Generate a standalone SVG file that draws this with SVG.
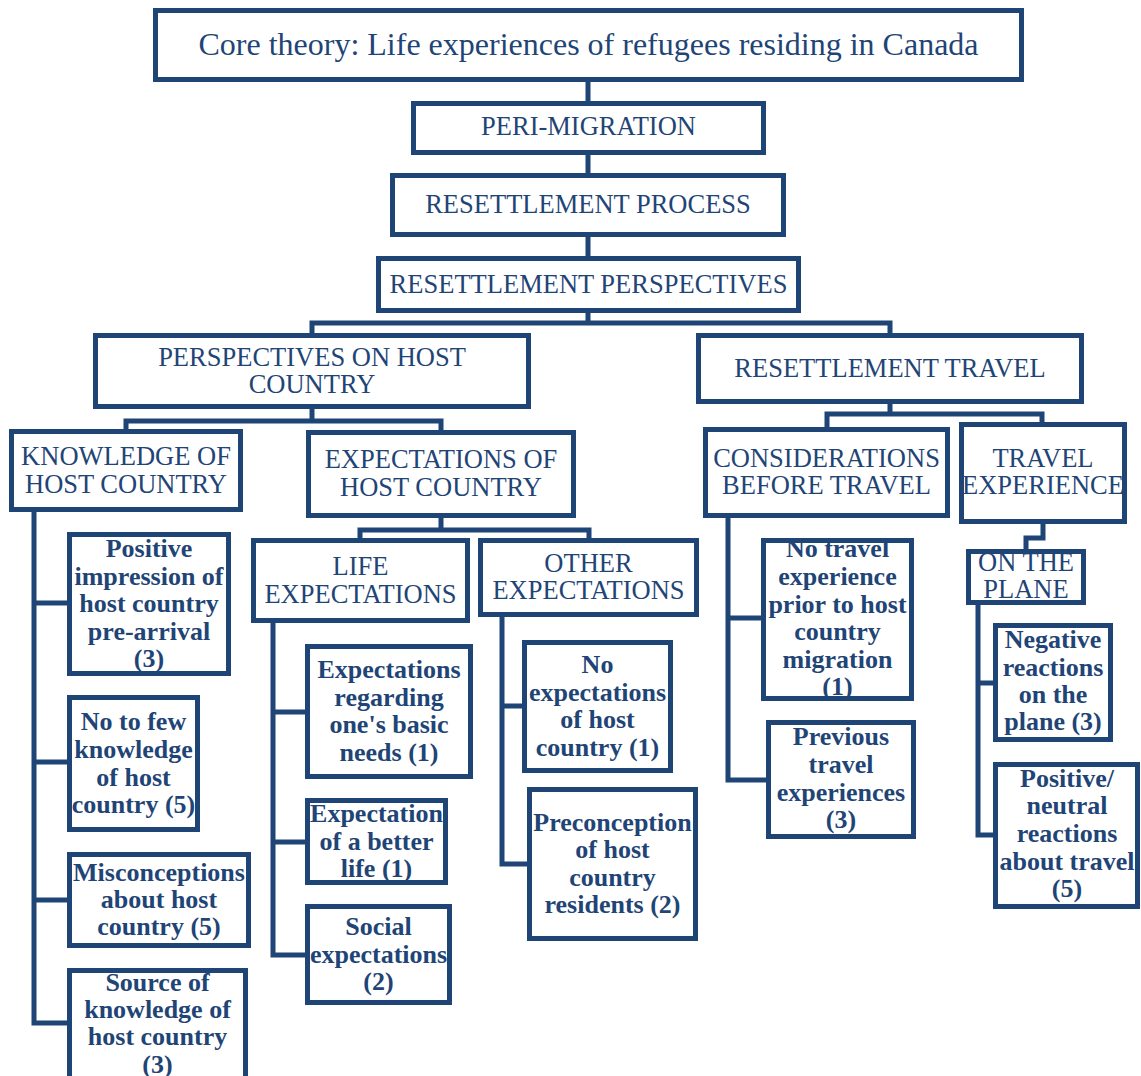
<svg xmlns="http://www.w3.org/2000/svg" width="1141" height="1076" viewBox="0 0 1141 1076">
  <style>
    .box { fill: #ffffff; stroke: #1F4576; stroke-width: 5; }
    .wire { fill: none; stroke: #1F4576; stroke-width: 5; stroke-linejoin: miter; stroke-linecap: square; }
    text { font-family: "Liberation Serif", "Times New Roman", serif; fill: #1F4576; text-anchor: middle; }
    .title { font-size: 32px; }
    .cat { font-size: 26.5px; }
    .leaf { font-size: 26px; font-weight: bold; }
  </style>
  <rect width="1141" height="1076" fill="#ffffff"/>

  <!-- tree connectors -->
  <g id="connectors">
    <path class="wire" d="M588 82 V101 M588 155 V173 M588 237 V256"/>
    <path class="wire" d="M588 313 V323 M312 333 V323 H890 V333"/>
    <path class="wire" d="M312 409 V421 M126 429 V421 H441 V430"/>
    <path class="wire" d="M890 404 V414 M827 427 V414 H1042 V422"/>
    <path class="wire" d="M34 512 V1023 H67 M34 603 H67 M34 762 H67 M34 900 H67"/>
    <path class="wire" d="M441 518 V530 M360 538 V530 H589 V538"/>
    <path class="wire" d="M273 623 V955 H305 M273 712 H305 M273 842 H305"/>
    <path class="wire" d="M502 617 V864 H527 M502 706 H522"/>
    <path class="wire" d="M728 518 V780 H766 M728 618 H761"/>
    <path class="wire" d="M1043 524 V538 H1026 V549"/>
    <path class="wire" d="M978 605 V835 H993 M978 683 H993"/>
  </g>

  <!-- level 0 -->
  <g id="core">
    <rect class="box" x="155.5" y="10.5" width="866" height="69"/>
    <text class="title" x="588.5" y="55">Core theory: Life experiences of refugees residing in Canada</text>
  </g>
  <g id="peri-migration">
    <rect class="box" x="413.5" y="103.5" width="350" height="49"/>
    <text class="cat" x="588.5" y="135">PERI-MIGRATION</text>
  </g>
  <g id="resettlement-process">
    <rect class="box" x="392.5" y="175.5" width="391" height="59"/>
    <text class="cat" x="588" y="213">RESETTLEMENT PROCESS</text>
  </g>
  <g id="resettlement-perspectives">
    <rect class="box" x="378.5" y="258.5" width="420" height="52"/>
    <text class="cat" x="588.5" y="293">RESETTLEMENT PERSPECTIVES</text>
  </g>

  <!-- level 1 -->
  <g id="perspectives-host">
    <rect class="box" x="95.5" y="335.5" width="433" height="71"/>
    <text class="cat" x="312" y="366">PERSPECTIVES ON HOST</text>
    <text class="cat" x="312" y="393">COUNTRY</text>
  </g>
  <g id="resettlement-travel">
    <rect class="box" x="698.5" y="335.5" width="383" height="66"/>
    <text class="cat" x="890" y="377">RESETTLEMENT TRAVEL</text>
  </g>

  <!-- level 2 -->
  <g id="knowledge">
    <rect class="box" x="11.5" y="431.5" width="229" height="78"/>
    <text class="cat" x="126" y="465">KNOWLEDGE OF</text>
    <text class="cat" x="126" y="493">HOST COUNTRY</text>
  </g>
  <g id="expectations">
    <rect class="box" x="308.5" y="432.5" width="265" height="83"/>
    <text class="cat" x="441" y="468">EXPECTATIONS OF</text>
    <text class="cat" x="441" y="496">HOST COUNTRY</text>
  </g>
  <g id="considerations">
    <rect class="box" x="705.5" y="429.5" width="242" height="86"/>
    <text class="cat" x="826.5" y="467">CONSIDERATIONS</text>
    <text class="cat" x="826.5" y="494">BEFORE TRAVEL</text>
  </g>
  <g id="travel-experience">
    <rect class="box" x="961.5" y="424.5" width="163" height="97"/>
    <text class="cat" x="1043" y="467">TRAVEL</text>
    <text class="cat" x="1043" y="494">EXPERIENCE</text>
  </g>

  <!-- level 3 -->
  <g id="life-expectations">
    <rect class="box" x="253.5" y="540.5" width="214" height="80"/>
    <text class="cat" x="360.5" y="575">LIFE</text>
    <text class="cat" x="360.5" y="603">EXPECTATIONS</text>
  </g>
  <g id="other-expectations">
    <rect class="box" x="480.5" y="540.5" width="216" height="74"/>
    <text class="cat" x="588.5" y="572">OTHER</text>
    <text class="cat" x="588.5" y="599">EXPECTATIONS</text>
  </g>
  <g id="on-the-plane">
    <rect class="box" x="968.5" y="551.5" width="115" height="51"/>
    <text class="cat" x="1026" y="571">ON THE</text>
    <text class="cat" x="1026" y="598">PLANE</text>
  </g>

  <!-- leaves: knowledge of host country -->
  <g id="positive-impression">
    <rect class="box" x="69.5" y="534.5" width="159" height="139"/>
    <text class="leaf" x="149" y="557">Positive</text>
    <text class="leaf" x="149" y="585">impression of</text>
    <text class="leaf" x="149" y="612">host country</text>
    <text class="leaf" x="149" y="640">pre-arrival</text>
    <text class="leaf" x="149" y="667">(3)</text>
  </g>
  <g id="no-to-few-knowledge">
    <rect class="box" x="69.5" y="697.5" width="128" height="132"/>
    <text class="leaf" x="133.5" y="730">No to few</text>
    <text class="leaf" x="133.5" y="758">knowledge</text>
    <text class="leaf" x="133.5" y="786">of host</text>
    <text class="leaf" x="133.5" y="813">country (5)</text>
  </g>
  <g id="misconceptions">
    <rect class="box" x="69.5" y="854.5" width="179" height="91"/>
    <text class="leaf" x="159" y="881">Misconceptions</text>
    <text class="leaf" x="159" y="908">about host</text>
    <text class="leaf" x="159" y="935">country (5)</text>
  </g>
  <g id="source-of-knowledge">
    <rect class="box" x="69.5" y="970.5" width="176" height="115"/>
    <text class="leaf" x="157.5" y="991">Source of</text>
    <text class="leaf" x="157.5" y="1018">knowledge of</text>
    <text class="leaf" x="157.5" y="1045">host country</text>
    <text class="leaf" x="157.5" y="1073">(3)</text>
  </g>

  <!-- leaves: life expectations -->
  <g id="basic-needs">
    <rect class="box" x="307.5" y="646.5" width="163" height="130"/>
    <text class="leaf" x="389" y="678">Expectations</text>
    <text class="leaf" x="389" y="706">regarding</text>
    <text class="leaf" x="389" y="733">one's basic</text>
    <text class="leaf" x="389" y="761">needs (1)</text>
  </g>
  <g id="better-life">
    <rect class="box" x="307.5" y="800.5" width="138" height="82"/>
    <text class="leaf" x="376.5" y="822">Expectation</text>
    <text class="leaf" x="376.5" y="850">of a better</text>
    <text class="leaf" x="376.5" y="877">life (1)</text>
  </g>
  <g id="social-expectations">
    <rect class="box" x="307.5" y="906.5" width="142" height="96"/>
    <text class="leaf" x="378.5" y="935">Social</text>
    <text class="leaf" x="378.5" y="963">expectations</text>
    <text class="leaf" x="378.5" y="990">(2)</text>
  </g>

  <!-- leaves: other expectations -->
  <g id="no-expectations">
    <rect class="box" x="524.5" y="642.5" width="146" height="128"/>
    <text class="leaf" x="597.5" y="673">No</text>
    <text class="leaf" x="597.5" y="701">expectations</text>
    <text class="leaf" x="597.5" y="728">of host</text>
    <text class="leaf" x="597.5" y="756">country (1)</text>
  </g>
  <g id="preconception">
    <rect class="box" x="529.5" y="789.5" width="166" height="149"/>
    <text class="leaf" x="612.5" y="831">Preconception</text>
    <text class="leaf" x="612.5" y="858">of host</text>
    <text class="leaf" x="612.5" y="886">country</text>
    <text class="leaf" x="612.5" y="913">residents (2)</text>
  </g>

  <!-- leaves: considerations before travel -->
  <g id="no-travel-experience">
    <rect class="box" x="763.5" y="540.5" width="148" height="158"/>
    <text class="leaf" x="837.5" y="557">No travel</text>
    <text class="leaf" x="837.5" y="585">experience</text>
    <text class="leaf" x="837.5" y="613">prior to host</text>
    <text class="leaf" x="837.5" y="640">country</text>
    <text class="leaf" x="837.5" y="668">migration</text>
    <text class="leaf" x="837.5" y="695">(1)</text>
  </g>
  <g id="previous-travel">
    <rect class="box" x="768.5" y="722.5" width="145" height="114"/>
    <text class="leaf" x="841" y="745">Previous</text>
    <text class="leaf" x="841" y="773">travel</text>
    <text class="leaf" x="841" y="801">experiences</text>
    <text class="leaf" x="841" y="828">(3)</text>
  </g>

  <!-- leaves: on the plane -->
  <g id="negative-reactions">
    <rect class="box" x="995.5" y="625.5" width="115" height="114"/>
    <text class="leaf" x="1053" y="648">Negative</text>
    <text class="leaf" x="1053" y="676">reactions</text>
    <text class="leaf" x="1053" y="703">on the</text>
    <text class="leaf" x="1053" y="730">plane (3)</text>
  </g>
  <g id="positive-neutral-reactions">
    <rect class="box" x="995.5" y="764.5" width="142" height="142"/>
    <text class="leaf" x="1067" y="787">Positive/</text>
    <text class="leaf" x="1067" y="814">neutral</text>
    <text class="leaf" x="1067" y="842">reactions</text>
    <text class="leaf" x="1067" y="870">about travel</text>
    <text class="leaf" x="1067" y="897">(5)</text>
  </g>
</svg>
